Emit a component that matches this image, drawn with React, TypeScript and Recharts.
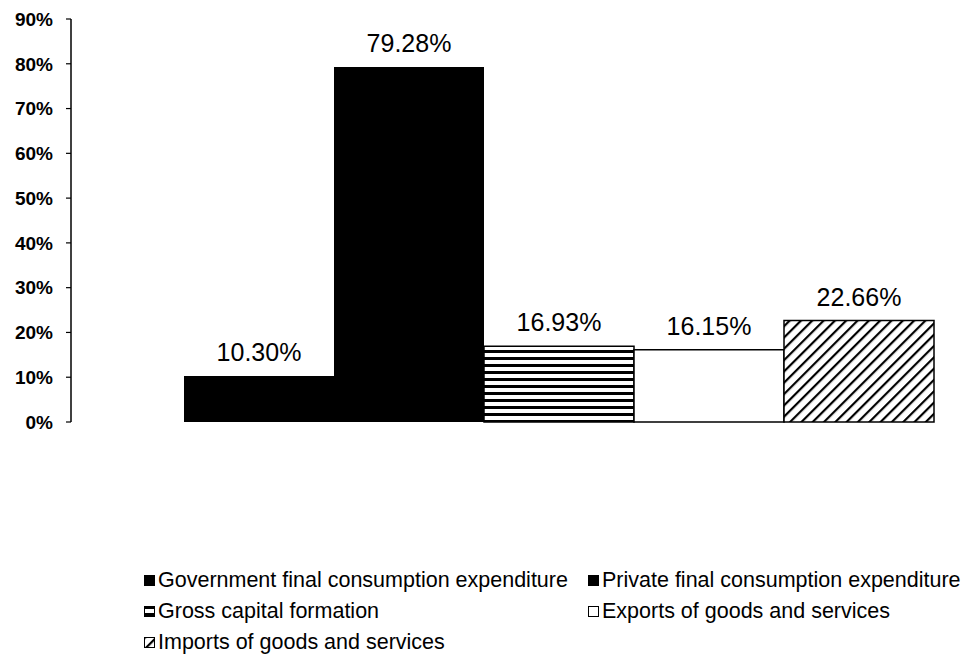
import React from 'react';
import { BarChart, Bar, XAxis, YAxis, Legend, LabelList } from 'recharts';

const seriesNames = [
  'Government final consumption expenditure',
  'Private final consumption expenditure',
  'Gross capital formation',
  'Exports of goods and services',
  'Imports of goods and services',
];
const seriesKeys = ['gov', 'priv', 'gcf', 'exp', 'imp'];
const shareValues = [10.3, 79.28, 16.93, 16.15, 22.66];
const yTicks = [0, 10, 20, 30, 40, 50, 60, 70, 80, 90];

const row: Record<string, string | number> = { name: 'GDP' };
seriesKeys.forEach((k, i) => {
  row[k] = shareValues[i];
});
const data = [row];

// fills per series (patterns are defined in the chart defs)
const fills = ['#000', '#000', 'url(#hstripe)', '#fff', 'url(#dstripe)'];

const FONT = '"Liberation Sans", Arial, Helvetica, sans-serif';

const LegendBox = ({ payload }: any) => {
  // keep the series order, not the alphabetical one
  const items = [...(payload || [])].sort(
    (a: any, b: any) => seriesKeys.indexOf(a.dataKey) - seriesKeys.indexOf(b.dataKey)
  );
  return (
    <div
      style={{
        display: 'grid',
        gridTemplateColumns: '444px 1fr',
        fontFamily: FONT,
        fontSize: 21.5,
        color: '#000',
        paddingLeft: 4,
      }}
    >
      {items.map((entry: any) => {
        const i = seriesKeys.indexOf(entry.dataKey);
        return (
          <div key={entry.dataKey} style={{ display: 'flex', alignItems: 'center', height: 31, whiteSpace: 'nowrap' }}>
            <svg width={11} height={11} style={{ marginRight: 3, flex: 'none' }}>
              <rect x={0.5} y={0.5} width={10} height={10} fill={fills[i]} stroke="#000" />
            </svg>
            <span>{entry.value}</span>
          </div>
        );
      })}
    </div>
  );
};

const App = () => {
  return (
    <div style={{ position: 'absolute', left: 0, top: 0, background: '#fff' }}>
      <BarChart
        width={969}
        height={660}
        data={data}
        margin={{ top: 19, right: 0, bottom: 238, left: 0 }}
        barGap={0}
        barCategoryGap={0}
      >
        <defs>
          <pattern id="hstripe" patternUnits="userSpaceOnUse" width={8} height={7}>
            <rect width={8} height={7} fill="#fff" />
            <rect width={8} height={3} fill="#000" />
          </pattern>
          <pattern id="dstripe" patternUnits="userSpaceOnUse" width={8} height={8} patternTransform="rotate(45)">
            <rect width={8} height={8} fill="#fff" />
            <rect width={2.2} height={8} fill="#000" />
          </pattern>
        </defs>
        <XAxis dataKey="name" hide padding={{ left: 113, right: 35 }} />
        <YAxis
          width={71}
          domain={[0, 90]}
          ticks={yTicks}
          interval={0}
          tickFormatter={(v: number) => `${v}%`}
          axisLine={{ stroke: '#000', strokeWidth: 1.5 }}
          tickLine={{ stroke: '#000', strokeWidth: 1.2 }}
          tickSize={5}
          tickMargin={13}
          tick={{ fill: '#000', fontFamily: FONT, fontSize: 19, fontWeight: 'bold' }}
        />
        <Legend
          content={<LegendBox />}
          layout="horizontal"
          verticalAlign="middle"
          align="center"
          wrapperStyle={{ top: 565, left: 140, width: 829 }}
        />
        {seriesKeys.map((k, i) => (
          <Bar
            key={k}
            dataKey={k}
            name={seriesNames[i]}
            fill={fills[i]}
            stroke="#000"
            strokeWidth={i >= 2 ? 1.5 : 0}
            isAnimationActive={false}
          >
            <LabelList
              dataKey={k}
              position="top"
              offset={15}
              formatter={(v: number) => `${v.toFixed(2)}%`}
              fill="#000"
              fontSize={25}
              fontFamily={FONT}
            />
          </Bar>
        ))}
      </BarChart>
    </div>
  );
};

export default App;
